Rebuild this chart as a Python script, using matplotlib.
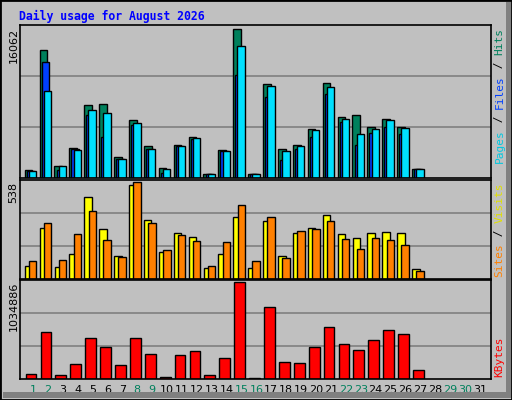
import matplotlib
matplotlib.use("Agg")
import matplotlib.pyplot as plt
from matplotlib.patches import Rectangle

days = list(range(1, 28))
hits = [870,13770,1310,3280,7870,7980,2300,6230,3390,1090,3500,4370,440,3060,16062,440,10160,3170,3600,5240,10270,6560,6770,5460,6340,5460,980]
files = [760,12460,870,3170,6770,4370,2080,5680,3170,550,3390,4150,440,2950,11030,440,8740,1970,3170,4370,9070,6010,3500,4810,5460,4700,980]
pages = [760,9400,1310,3060,7320,7000,2080,5900,3170,980,3390,4260,440,2950,14200,440,9940,2950,3390,5130,9830,6340,4700,5240,6230,5350,980]
visits = [72,282,66,142,456,276,130,526,328,148,258,235,60,142,346,60,322,130,258,284,357,252,229,258,264,258,54]
sites = [101,311,107,252,381,218,124,538,311,159,247,212,72,206,410,101,346,118,270,276,322,223,165,229,218,188,43]
kbytes = [49100,502000,37800,162000,434000,344000,151000,434000,264000,26400,253000,298000,37800,230000,1034886,15000,774000,185000,174000,344000,559000,378000,310000,423000,525000,480000,94000]
xlabels = [str(d) for d in range(1, 32)]
weekend = {1,2,8,9,15,16,22,23,29,30}

BG = "#C0C0C0"
fig = plt.figure(figsize=(5.12, 4.0), dpi=100)
fig.patch.set_facecolor(BG)
fig.add_artist(Rectangle((0, 0), 1, 1, transform=fig.transFigure, fill=False, ec="black", lw=2))
fig.add_artist(Rectangle((506/512, 0.005), 5/512, 0.99, transform=fig.transFigure, fc="#808080", ec="none"))
fig.add_artist(Rectangle((0.005, 0.005), 0.99, 6/400, transform=fig.transFigure, fc="#808080", ec="none"))
fig.text(19/512, 1-16/400, "Daily usage for August 2026", color="#0000FF", fontsize=8.3,
         family="DejaVu Sans Mono", weight="bold", va="center")

L, W = 20/512, (491-20)/512
ax1 = fig.add_axes([L, 1-178/400, W, 153/400])
ax2 = fig.add_axes([L, 1-279/400, W, 99/400])
ax3 = fig.add_axes([L, 1-379/400, W, 99/400])

def style(ax, top, label):
    ax.set_facecolor(BG)
    ax.set_xlim(0.128, 31.74)
    ax.set_ylim(0, top * 1.025)
    for f in (1/3, 2/3):
        ax.axhline(top * 1.025 * f, color="#808080", lw=1.2, zorder=0)
    ax.set_xticks([]); ax.set_yticks([])
    for s in ax.spines.values():
        s.set_color("black"); s.set_linewidth(1.2)
    ax.text(-0.0135, 0.98, label, transform=ax.transAxes, rotation=90, ha="center", va="top",
            fontsize=8, family="DejaVu Sans")

kw = dict(align="edge", edgecolor="black", linewidth=1)
x = days
ax1.bar([d-0.56 for d in x], hits, 0.52, color="#00805C", **kw)
ax1.bar([d-0.42 for d in x], files, 0.5, color="#0040FF", **kw)
ax1.bar([d-0.28 for d in x], pages, 0.5, color="#00E0FF", **kw)
style(ax1, max(hits), "16062")

ax2.bar([d-0.55 for d in x], visits, 0.5, color="#FFFF00", **kw)
ax2.bar([d-0.27 for d in x], sites, 0.5, color="#FF8000", **kw)
style(ax2, max(sites), "538")

ax3.bar([d-0.49 for d in x], kbytes, 0.72, color="#FF0000", **kw)
style(ax3, max(kbytes), "1034886")

for i, lab in enumerate(xlabels):
    d = i + 1
    ax3.text(d, -0.11, lab, transform=ax3.get_xaxis_transform(), ha="center", va="center",
             fontsize=8, color="#00805C" if d in weekend else "black")

fig.canvas.draw()
r = fig.canvas.get_renderer()

def side(ax, parts, from_top=False):
    axh = ax.get_window_extent(r).height
    y = 0.98 if from_top else 0.02
    seq = parts[::-1] if from_top else parts
    for txt, col in seq:
        t = ax.text(1.018, y, txt, transform=ax.transAxes, rotation=90, ha="center",
                    va="top" if from_top else "bottom",
                    fontsize=8, color=col, family="DejaVu Sans Mono")
        h = t.get_window_extent(r).height / axh
        y += -h if from_top else h

side(ax1, [("Pages", "#00C8E0"), (" / ", "black"), ("Files", "#0040FF"), (" / ", "black"), ("Hits", "#00805C")], from_top=True)
side(ax2, [("Sites", "#FF8000"), (" / ", "black"), ("Visits", "#E0E000")])
side(ax3, [("KBytes", "#FF0000")])

fig.savefig("out.png", dpi=100, facecolor=BG)
